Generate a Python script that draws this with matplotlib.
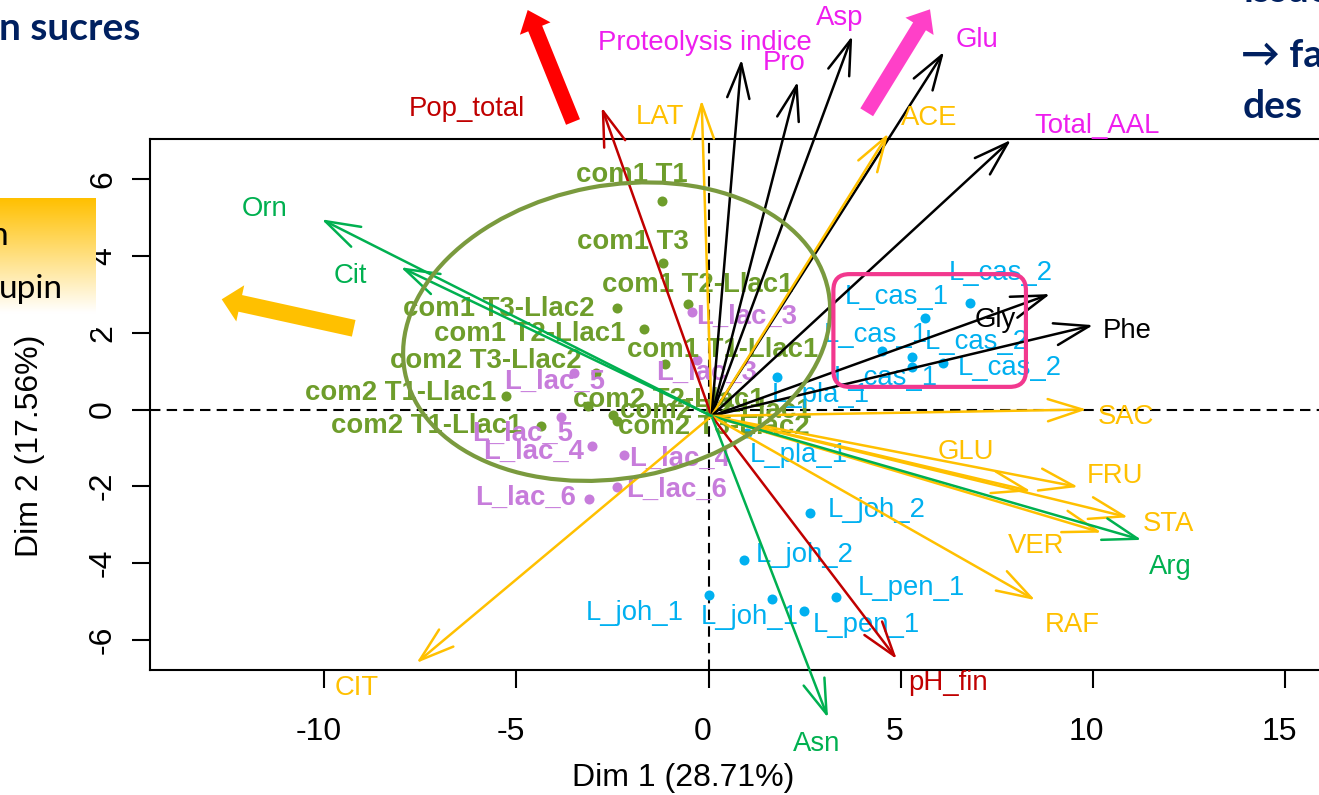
import numpy as np
import matplotlib
matplotlib.use("Agg")
import matplotlib.pyplot as plt
from matplotlib.patches import Ellipse, FancyBboxPatch, FancyArrow
from matplotlib.transforms import ScaledTranslation

plt.rcParams['font.family'] = ['Liberation Sans', 'DejaVu Sans']
plt.rcParams['axes.unicode_minus'] = False

# --- variables (arrows of the biplot)
var_names = ["Pop_total", "LAT", "Proteolysis indice", "Pro", "Asp", "Glu", "ACE",
             "Total_AAL", "Gly", "Phe", "SAC", "GLU", "FRU", "STA", "VER", "Arg",
             "RAF", "pH_fin", "Asn", "CIT", "Orn", "Cit"]
var_group = ["micro", "sugar", "aal", "aal", "aal", "aal", "sugar",
             "aal", "aa", "aa", "sugar", "sugar", "sugar", "sugar", "sugar", "aa_g",
             "sugar", "micro", "aa_g", "sugar", "aa_g", "aa_g"]
var_x = [-2.78, -0.18, 0.86, 2.32, 3.74, 6.13, 4.68,
         7.87, 8.89, 10.01, 9.84, 8.39, 9.62, 10.92, 10.23, 11.27,
         8.50, 4.90, 3.11, -7.60, -10.07, -8.01]
var_y = [7.88, 8.07, 9.13, 8.55, 9.74, 9.33, 7.20,
         7.03, 3.01, 2.20, 0.00, -2.13, -2.02, -2.81, -3.21, -3.40,
         -4.97, -6.51, -8.04, -6.61, 4.96, 3.71]
var_lab_x = [-6.28, -1.26, -0.09, 1.96, 3.42, 6.99, 5.74,
             10.11, 7.45, 10.89, 10.87, 6.70, 10.58, 11.98, 8.52, 12.01,
             9.46, 6.23, 2.82, -9.15, -11.54, -9.33]
var_lab_y = [7.84, 7.63, 9.55, 9.03, 10.21, 9.63, 7.60,
             7.39, 2.33, 2.05, -0.20, -1.11, -1.73, -2.99, -3.56, -4.11,
             -5.62, -7.13, -8.72, -7.26, 5.23, 3.48]
arrow_origin = (0.08, -0.17)

# --- individuals
ind_names = ["com1 T1", "com1 T3", "com1 T2-Llac1", "com1 T3-Llac2", "com1 T2-Llac1",
             "com1 T1-Llac1", "com2 T3-Llac2", "com2 T1-Llac1", "com2 T1-Llac1",
             "com2 T2-Llac1", "com2 T2-Llac1", "com2 T3-Llac2",
             "L_lac_3", "L_lac_3", "L_lac_5", "L_lac_5", "L_lac_4", "L_lac_4",
             "L_lac_6", "L_lac_6",
             "L_cas_2", "L_cas_1", "L_cas_1", "L_cas_2", "L_cas_2", "L_cas_1",
             "L_pla_1", "L_pla_1", "L_joh_2", "L_joh_2", "L_pen_1", "L_pen_1",
             "L_joh_1", "L_joh_1"]
ind_group = ["com"] * 12 + ["lac"] * 8 + ["other"] * 14
ind_x = [-1.20, -1.19, -0.53, -2.39, -1.67, -1.13, -2.93, -5.28, -4.37, -3.13, -2.49, -2.39,
         -0.44, -0.30, -3.50, -3.84, -3.04, -2.20, -2.39, -3.10,
         6.80, 5.63, 4.51, 5.29, 6.09, 5.29, 1.79, 1.00, 2.64, 0.93, 3.32, 2.49, 0.00, 1.64]
ind_y = [5.44, 3.81, 2.75, 2.64, 2.10, 1.18, 0.96, 0.36, -0.43, 0.09, -0.14, -0.29,
         2.55, 1.30, 0.96, -0.19, -0.94, -1.19, -2.01, -2.34,
         2.77, 2.38, 1.53, 1.38, 1.20, 1.12, 0.86, -0.60, -2.71, -3.92, -4.90, -5.25, -4.84, -4.95]
ind_lab_x = [-2.00, -1.96, -0.27, -5.45, -4.64, 0.37, -5.79, -8.00, -7.33, -1.03, 0.20, 0.14,
             1.00, -0.04, -4.00, -4.83, -4.54, -0.74, -0.82, -4.75,
             7.60, 4.91, 4.36, 6.99, 7.85, 4.62, 2.93, 2.35, 4.38, 2.51, 5.27, 4.10, -1.91, 1.08]
ind_lab_y = [6.11, 4.38, 3.25, 2.62, 1.97, 1.55, 1.27, 0.42, -0.43, 0.25, -0.04, -0.46,
             2.42, 0.95, 0.72, -0.64, -1.11, -1.29, -2.10, -2.31,
             3.56, 2.94, 1.94, 1.77, 1.07, 0.82, 0.38, -1.19, -2.62, -3.79, -4.66, -5.62, -5.31, -5.42]

xticks = [-10, -5, 0, 5, 10, 15]
yticks = [-6, -4, -2, 0, 2, 4, 6]
xlabel = "Dim 1 (28.71%)"
ylabel = "Dim 2 (17.56%)"

DARKRED, ORANGE, GREEN = "#C00000", "#FFC000", "#00B050"
MAGENTA, NAVY = "#EE1EEE", "#002060"
var_style = {"micro": (DARKRED, DARKRED), "sugar": (ORANGE, ORANGE),
             "aal": ("black", MAGENTA), "aa": ("black", "black"), "aa_g": (GREEN, GREEN)}
ind_style = {"com": ("#6E9D2B", "bold"), "lac": ("#C77CDB", "bold"), "other": ("#00B0F0", "normal")}

W, H = 1319, 795
fig = plt.figure(figsize=(W / 100, H / 100), dpi=100)

# plot region, pixel geometry of the slide
left_px, top_px, bot_px = 150, 139, 670
ox_px, oy_px, sx, sy = 708.5, 409.5, 38.43, 38.35
xmin, xmax = (left_px - ox_px) / sx, 17.5
ymin, ymax = (oy_px - bot_px) / sy, (oy_px - top_px) / sy
axw = (xmax - xmin) * sx
ax = fig.add_axes([left_px / W, 1 - bot_px / H, axw / W, (bot_px - top_px) / H])
ax.set_xlim(xmin, xmax)
ax.set_ylim(ymin, ymax)
for s in ax.spines.values():
    s.set_linewidth(1.5)
ax.spines['right'].set_visible(False)

ax.set_xticks(xticks)
ax.set_yticks(yticks)
ax.tick_params(length=13, width=1.5, labelsize=23)
ax.tick_params(axis='x', pad=21)
ax.tick_params(axis='y', pad=10, labelrotation=90)
for lab in ax.get_yticklabels():
    lab.set_va('center')
shift = ScaledTranslation(-6 / 100, 0, fig.dpi_scale_trans)
for lab in ax.get_xticklabels():
    lab.set_transform(lab.get_transform() + shift)

ax.set_xlabel(xlabel, fontsize=23)
ax.set_ylabel(ylabel, fontsize=23)
ax.xaxis.set_label_coords((683 - left_px) / axw, (bot_px - 778) / (bot_px - top_px))
ax.yaxis.set_label_coords((30 - left_px) / axw, (bot_px - 446) / (bot_px - top_px))
ax.xaxis.label.set_va('center')
ax.yaxis.label.set_va('center')

ax.axhline(0, color='black', lw=1.5, ls=(0, (5, 3)), zorder=1)
ax.axvline(0, color='black', lw=1.5, ls=(0, (5, 3)), zorder=1)

# individuals
for g, (col, wt) in ind_style.items():
    idx = [i for i, gg in enumerate(ind_group) if gg == g]
    ax.scatter([ind_x[i] for i in idx], [ind_y[i] for i in idx], s=52, color=col,
               zorder=2, linewidths=0)
    for i in idx:
        ax.text(ind_lab_x[i], ind_lab_y[i], ind_names[i], color=col, fontsize=19.8,
                fontweight=wt, ha='center', va='center', zorder=3)

# variables
for name, g, vx, vy, lx, ly in zip(var_names, var_group, var_x, var_y, var_lab_x, var_lab_y):
    acol, tcol = var_style[g]
    ax.annotate('', xy=(vx, vy), xytext=arrow_origin, annotation_clip=False, zorder=4,
                arrowprops=dict(arrowstyle='->,head_length=2.5,head_width=0.8',
                                color=acol, lw=1.8, shrinkA=0, shrinkB=0, mutation_scale=10))
    ax.text(lx, ly, name, color=tcol, fontsize=19.8, ha='center', va='center', zorder=5)

# highlight shapes
ax.add_patch(Ellipse((-2.39, 2.03), 11.22, 7.63, angle=10.8, fill=False,
                     ec="#7A9A3E", lw=3, zorder=6, clip_on=False))
ax.add_patch(FancyBboxPatch((3.25, 0.59), 5.01, 2.94,
                            boxstyle='round,pad=0,rounding_size=0.42',
                            fill=False, ec="#F2388E", lw=3, zorder=6, clip_on=False))

# slide overlay in pixel coordinates
ov = fig.add_axes([0, 0, 1, 1], zorder=10)
ov.axis('off')

t = np.clip(np.linspace(0, 1.15, 200), 0, 1)[:, None, None]
orange_rgb = np.array(matplotlib.colors.to_rgb(ORANGE))[None, None, :]
grad = (1 - t) * orange_rgb + t * np.ones(3)[None, None, :]
ov.imshow(grad, extent=(0, 96, 330, 198), aspect='auto', zorder=0)
ov.set_xlim(0, W)
ov.set_ylim(H, 0)

ov.add_patch(FancyArrow(573, 122, 527.7 - 573, 10 - 122, width=15, head_width=33,
                        head_length=20, length_includes_head=True, color="#FF0000", lw=0))
ov.add_patch(FancyArrow(866.7, 112.3, 930 - 866.7, 9.3 - 112.3, width=15, head_width=33,
                        head_length=20, length_includes_head=True, color="#FF40C8", lw=0))
ov.add_patch(FancyArrow(353.7, 328.3, 221.7 - 353.7, 299.3 - 328.3, width=17, head_width=37,
                        head_length=19, length_includes_head=True, color=ORANGE, lw=0))

navy_font = dict(color=NAVY, fontsize=28, fontweight='bold', family=['Lato', 'DejaVu Sans'],
                 va='baseline', ha='left')
ov.text(-1, 40, "n sucres", **navy_font)
ov.text(1243, 2, "issue", **navy_font)
ov.text(1241, 67, "\u2192 favorise", **navy_font)
ov.text(1243, 118, "des", **navy_font)
black_font = dict(color='black', fontsize=24, family=['Lato', 'DejaVu Sans'],
                  va='baseline', ha='left')
ov.text(-10, 245, "n", **black_font)
ov.text(-1, 298, "upin", **black_font)

fig.savefig("out.png", dpi=100)
